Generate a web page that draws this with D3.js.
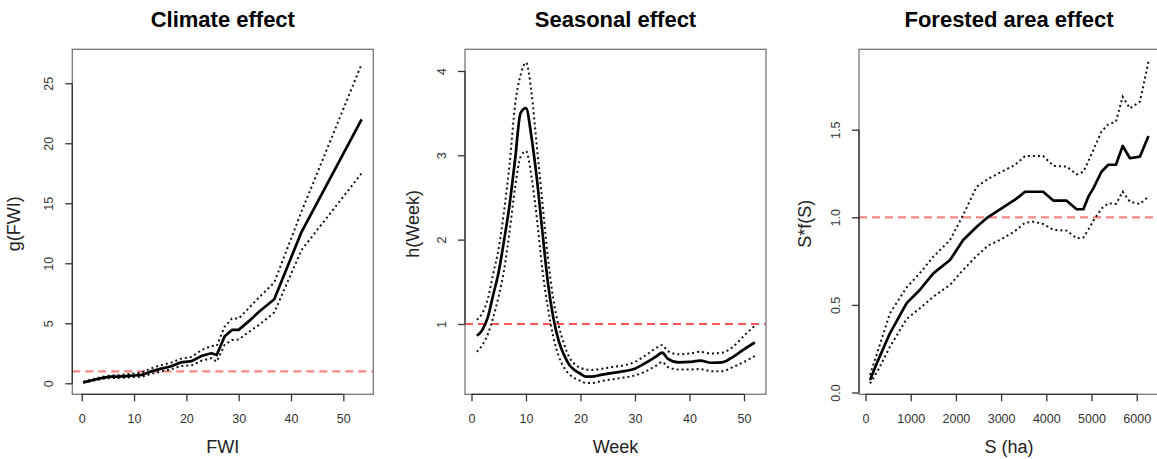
<!DOCTYPE html>
<html>
<head>
<meta charset="utf-8">
<script src="https://cdn.jsdelivr.net/npm/d3@7"></script>
<style>
  body { margin: 0; background: #fff; }
  svg { display: block; font-family: "Liberation Sans", Arial, sans-serif; }
</style>
</head>
<body>
<svg id="chart"></svg>
<script>
// ---- climate effect: g(FWI)
const fwiX     = [0.3, 2, 4, 5.5, 7, 8.5, 10, 11.5, 13, 15, 17, 19, 21, 23, 24.8, 25.8, 27.3, 28.7, 30, 32, 34, 36.8, 42, 53.5];
const fwiFit   = [0.08, 0.25, 0.45, 0.55, 0.55, 0.6, 0.65, 0.7, 0.95, 1.2, 1.4, 1.75, 1.85, 2.3, 2.5, 2.35, 3.9, 4.45, 4.45, 5.2, 6.0, 7.0, 12.6, 22.0];
const fwiUpper = [0.12, 0.32, 0.55, 0.65, 0.68, 0.75, 0.82, 0.9, 1.2, 1.5, 1.7, 2.05, 2.2, 2.8, 3.1, 3.1, 4.7, 5.4, 5.4, 6.3, 7.2, 8.4, 14.3, 26.6];
const fwiLower = [0.05, 0.2, 0.38, 0.45, 0.45, 0.48, 0.52, 0.55, 0.75, 0.97, 1.15, 1.45, 1.5, 1.9, 2.1, 1.8, 3.2, 3.6, 3.65, 4.3, 4.9, 5.9, 11.1, 17.5];

// ---- seasonal effect: h(Week)
const weekX     = [1, 2, 3, 4, 5, 6, 7, 8, 9, 10, 11, 12, 13, 14, 15, 16, 17, 18, 19, 20, 21, 22, 24, 26, 28, 30, 32, 34, 35, 36, 38, 40, 42, 44, 46, 48, 50, 52];
const weekFit   = [0.86, 0.93, 1.08, 1.35, 1.62, 2.0, 2.42, 2.95, 3.5, 3.56, 3.22, 2.72, 2.1, 1.5, 1.08, 0.8, 0.63, 0.51, 0.45, 0.41, 0.375, 0.375, 0.4, 0.42, 0.44, 0.47, 0.54, 0.62, 0.66, 0.59, 0.545, 0.55, 0.565, 0.54, 0.545, 0.61, 0.7, 0.78];
const weekUpper = [1.05, 1.13, 1.3, 1.6, 1.9, 2.35, 2.9, 3.6, 3.95, 4.1, 3.75, 3.1, 2.45, 1.8, 1.3, 0.98, 0.76, 0.6, 0.52, 0.48, 0.46, 0.455, 0.47, 0.49, 0.51, 0.55, 0.63, 0.72, 0.75, 0.68, 0.64, 0.65, 0.67, 0.65, 0.66, 0.73, 0.86, 0.98];
const weekLower = [0.67, 0.75, 0.88, 1.08, 1.33, 1.65, 2.1, 2.62, 2.98, 3.05, 2.75, 2.25, 1.65, 1.2, 0.85, 0.62, 0.48, 0.4, 0.355, 0.325, 0.3, 0.3, 0.325, 0.345, 0.365, 0.39, 0.44, 0.51, 0.55, 0.49, 0.46, 0.46, 0.465, 0.44, 0.44, 0.49, 0.55, 0.62];

// ---- forested area effect: S*f(S)
const areaX     = [100, 280, 540, 910, 1200, 1500, 1870, 2160, 2460, 2720, 3010, 3300, 3530, 3700, 3930, 4160, 4450, 4670, 4820, 4930, 5040, 5220, 5370, 5540, 5690, 5850, 6070, 6260];
const areaFit   = [0.071, 0.185, 0.338, 0.51, 0.585, 0.68, 0.756, 0.87, 0.946, 1.003, 1.051, 1.099, 1.146, 1.146, 1.146, 1.095, 1.095, 1.046, 1.046, 1.118, 1.165, 1.26, 1.30, 1.30, 1.407, 1.337, 1.346, 1.464];
const areaUpper = [0.10, 0.243, 0.452, 0.60, 0.68, 0.775, 0.87, 1.013, 1.175, 1.22, 1.26, 1.298, 1.35, 1.35, 1.35, 1.293, 1.29, 1.245, 1.26, 1.32, 1.384, 1.49, 1.53, 1.546, 1.688, 1.622, 1.66, 1.888];
const areaLower = [0.052, 0.128, 0.261, 0.42, 0.48, 0.547, 0.614, 0.70, 0.78, 0.84, 0.875, 0.92, 0.969, 0.975, 0.962, 0.928, 0.924, 0.88, 0.885, 0.93, 0.98, 1.05, 1.08, 1.076, 1.146, 1.089, 1.076, 1.118];

// ticks
const fwiXTicks  = [0, 10, 20, 30, 40, 50];
const fwiYTicks  = [0, 5, 10, 15, 20, 25];
const weekXTicks = [0, 10, 20, 30, 40, 50];
const weekYTicks = [1, 2, 3, 4];
const areaXTicks = [0, 1000, 2000, 3000, 4000, 5000, 6000];
const areaYTicks = [0, 0.5, 1, 1.5];

const width = 1157, height = 459;
const svg = d3.select('#chart').attr('width', width).attr('height', height);

const panels = [
    { title: 'Climate effect', xlab: 'FWI', ylab: 'g(FWI)', ylabX: 19.5,
      box: [72.3, 49.3, 373.3, 394.3], xDom: [-1.8, 55.73], yDom: [-0.917, 27.83],
      x: fwiX, fit: fwiFit, up: fwiUpper, lo: fwiLower,
      xt: fwiXTicks, yt: fwiYTicks, yfmt: d3.format('d'),
      refColor: '#f98585', refWidth: 2.3, curve: d3.curveLinear },
    { title: 'Seasonal effect', xlab: 'Week', ylab: 'h(Week)', ylabX: 418.5,
      box: [465, 49.3, 766, 394.3], xDom: [-1.19, 54.04], yDom: [0.166, 4.257],
      x: weekX, fit: weekFit, up: weekUpper, lo: weekLower,
      xt: weekXTicks, yt: weekYTicks, yfmt: d3.format('d'),
      refColor: '#ff2020', refWidth: 1.6, curve: d3.curveMonotoneX },
    { title: 'Forested area effect', xlab: 'S (ha)', ylab: 'S*f(S)', ylabX: 811,
      box: [859, 49.3, 1159, 394.3], xDom: [-144, 6493], yDom: [-0.0103, 1.959],
      x: areaX, fit: areaFit, up: areaUpper, lo: areaLower,
      xt: areaXTicks, yt: areaYTicks, yfmt: d3.format('.1f'),
      refColor: '#f98585', refWidth: 2.3, curve: d3.curveLinear }
];

panels.forEach(p => {
    const [l, t, r, b] = p.box;
    const xScale = d3.scaleLinear().domain(p.xDom).range([l, r]);
    const yScale = d3.scaleLinear().domain(p.yDom).range([b, t]);
    const g = svg.append('g');

    // reference line at 1
    g.append('line')
        .attr('x1', l).attr('x2', r)
        .attr('y1', yScale(1)).attr('y2', yScale(1))
        .attr('stroke', p.refColor)
        .attr('stroke-width', p.refWidth)
        .attr('stroke-dasharray', '8,5');

    const line = ys => d3.line()
        .x((d, i) => xScale(p.x[i]))
        .y(d => yScale(d))
        .curve(p.curve)(ys);

    [p.up, p.lo].forEach(ys => {
        g.append('path')
            .attr('d', line(ys))
            .attr('fill', 'none')
            .attr('stroke', '#111')
            .attr('stroke-width', 2)
            .attr('stroke-dasharray', '2,3');
    });

    g.append('path')
        .attr('d', line(p.fit))
        .attr('fill', 'none')
        .attr('stroke', '#000')
        .attr('stroke-width', 2.7)
        .attr('stroke-linejoin', 'round');

    // box
    g.append('rect')
        .attr('x', l).attr('y', t)
        .attr('width', r - l).attr('height', b - t)
        .attr('fill', 'none')
        .attr('stroke', '#777')
        .attr('stroke-width', 1.3);

    // x axis
    const xAx = g.append('g')
        .attr('transform', `translate(0,${b})`)
        .call(d3.axisBottom(xScale).tickValues(p.xt).tickSize(7).tickSizeOuter(0).tickFormat(d3.format('d')));
    xAx.select('.domain').remove();
    xAx.append('line')
        .attr('x1', xScale(p.xt[0])).attr('x2', xScale(p.xt[p.xt.length - 1]))
        .attr('stroke', '#333').attr('stroke-width', 1.3);
    xAx.selectAll('.tick line').attr('stroke', '#333').attr('stroke-width', 1.3);
    xAx.selectAll('.tick text')
        .attr('y', 29).attr('dy', null)
        .attr('fill', '#333')
        .style('font-size', '12.5px');

    // y axis
    const yAx = g.append('g')
        .attr('transform', `translate(${l},0)`)
        .call(d3.axisLeft(yScale).tickValues(p.yt).tickSize(7).tickSizeOuter(0).tickFormat(p.yfmt));
    yAx.select('.domain').remove();
    yAx.append('line')
        .attr('y1', yScale(p.yt[0])).attr('y2', yScale(p.yt[p.yt.length - 1]))
        .attr('stroke', '#333').attr('stroke-width', 1.3);
    yAx.selectAll('.tick line').attr('stroke', '#333').attr('stroke-width', 1.3);
    yAx.selectAll('.tick text')
        .attr('x', null).attr('dy', null)
        .attr('text-anchor', 'middle')
        .attr('transform', 'translate(-19,0) rotate(-90)')
        .attr('fill', '#333')
        .style('font-size', '12.5px');

    // title and axis labels
    g.append('text')
        .attr('x', (l + r) / 2).attr('y', 27)
        .attr('text-anchor', 'middle')
        .style('font-size', '22px').style('font-weight', 'bold')
        .text(p.title);

    g.append('text')
        .attr('x', (l + r) / 2).attr('y', 453)
        .attr('text-anchor', 'middle')
        .attr('fill', '#222')
        .style('font-size', '18px')
        .text(p.xlab);

    g.append('text')
        .attr('transform', `translate(${p.ylabX},${(t + b) / 2 + 2}) rotate(-90)`)
        .attr('text-anchor', 'middle')
        .attr('fill', '#222')
        .style('font-size', '18px')
        .text(p.ylab);
});
</script>
</body>
</html>
